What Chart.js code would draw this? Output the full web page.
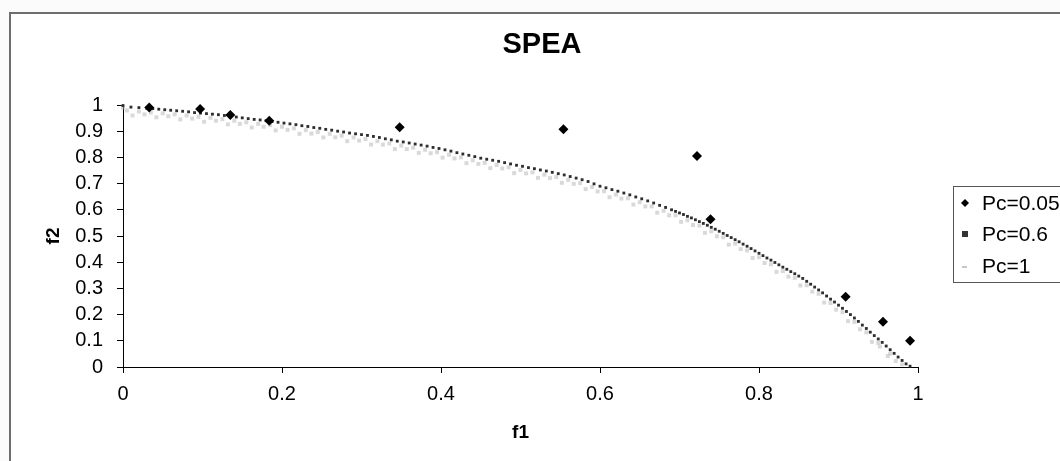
<!DOCTYPE html>
<html>
<head>
<meta charset="utf-8">
<script src="https://cdn.jsdelivr.net/npm/chart.js@4.4.0/dist/chart.umd.min.js"></script>
<style>
  html, body { margin: 0; padding: 0; background: #fbfbfb; }
  #wrap { width: 1060px; height: 461px; }
</style>
</head>
<body>
<div id="wrap"><canvas id="scatterChart" width="1060" height="461"></canvas></div>
<script>
// values
var chartTitle = 'SPEA'
var seriesNames = ['Pc=0.05', 'Pc=0.6', 'Pc=1']
var xTicks = [0, 0.2, 0.4, 0.6, 0.8, 1]
var yTicks = [0, 0.1, 0.2, 0.3, 0.4, 0.5, 0.6, 0.7, 0.8, 0.9, 1]

// Pc=0.05 (black diamonds)
var pc005X = [0.033, 0.097, 0.135, 0.184, 0.348, 0.554, 0.722, 0.739, 0.909, 0.956, 0.990]
var pc005Y = [0.990, 0.985, 0.962, 0.940, 0.915, 0.907, 0.805, 0.564, 0.268, 0.173, 0.100]

// Pc=0.6 (small dark squares along the front)
var pc06X = [0.000, 0.010, 0.020, 0.030, 0.045, 0.060, 0.075, 0.090, 0.105, 0.120,
  0.135, 0.150, 0.165, 0.180, 0.195, 0.210, 0.225, 0.240, 0.255, 0.270,
  0.285, 0.300, 0.315, 0.330, 0.345, 0.360, 0.375, 0.390, 0.405, 0.420,
  0.435, 0.450, 0.465, 0.480, 0.495, 0.510, 0.525, 0.540, 0.555, 0.570,
  0.585, 0.600, 0.615, 0.630, 0.645, 0.660, 0.675, 0.690,
  0.700, 0.705, 0.710, 0.715, 0.720, 0.725, 0.730, 0.735, 0.740, 0.745,
  0.750, 0.755, 0.760, 0.765, 0.770, 0.775, 0.780, 0.785, 0.790, 0.795,
  0.800, 0.805, 0.810, 0.815, 0.820, 0.825, 0.830, 0.835, 0.840, 0.845,
  0.850, 0.855, 0.860, 0.865, 0.870, 0.875, 0.880, 0.885, 0.890, 0.895,
  0.900, 0.905, 0.910, 0.915, 0.920, 0.925, 0.930, 0.935, 0.940, 0.945,
  0.950, 0.955, 0.960, 0.965, 0.970, 0.975, 0.980, 0.985, 0.990,
  0.0375, 0.0525, 0.0675, 0.0825, 0.0975, 0.1125, 0.1275, 0.1425, 0.1575, 0.1725,
  0.1875, 0.2025, 0.2175, 0.2325, 0.2475, 0.2625, 0.2775, 0.2925, 0.3075, 0.3225,
  0.3375, 0.3525, 0.3675, 0.3825, 0.3975, 0.4125, 0.4275, 0.4425, 0.4575, 0.4725,
  0.4875, 0.5025, 0.5175, 0.5325, 0.5475, 0.5625, 0.5775, 0.5925, 0.6075, 0.6225,
  0.6375, 0.6525, 0.6675, 0.6825, 0.6950]
var pc06Y = [0.998, 0.992, 0.990, 0.987, 0.984, 0.980, 0.976, 0.971, 0.967, 0.963,
  0.957, 0.951, 0.945, 0.940, 0.934, 0.928, 0.921, 0.914, 0.907, 0.900,
  0.893, 0.887, 0.880, 0.871, 0.862, 0.855, 0.847, 0.838, 0.829, 0.818,
  0.808, 0.797, 0.789, 0.780, 0.770, 0.761, 0.752, 0.743, 0.733, 0.721,
  0.708, 0.690, 0.677, 0.664, 0.649, 0.634, 0.617, 0.600,
  0.588, 0.582, 0.575, 0.569, 0.562, 0.555, 0.548, 0.541, 0.533, 0.526,
  0.518, 0.510, 0.502, 0.494, 0.486, 0.478, 0.469, 0.461, 0.452, 0.443,
  0.434, 0.425, 0.416, 0.408, 0.399, 0.390, 0.381, 0.373, 0.364, 0.356,
  0.347, 0.338, 0.327, 0.316, 0.305, 0.294, 0.283, 0.271, 0.259, 0.248,
  0.236, 0.224, 0.212, 0.200, 0.187, 0.174, 0.160, 0.147, 0.133, 0.120,
  0.107, 0.094, 0.080, 0.066, 0.052, 0.038, 0.025, 0.012, 0.003,
  0.986, 0.982, 0.978, 0.974, 0.969, 0.965, 0.960, 0.954, 0.948, 0.943,
  0.937, 0.931, 0.925, 0.918, 0.911, 0.904, 0.897, 0.890, 0.884, 0.876,
  0.867, 0.859, 0.851, 0.843, 0.834, 0.824, 0.813, 0.803, 0.793, 0.785,
  0.775, 0.766, 0.757, 0.748, 0.738, 0.727, 0.715, 0.699, 0.684, 0.671,
  0.657, 0.642, 0.626, 0.609, 0.594]

// Pc=1 (light grey band just under the front)
var pc1X = [0.000, 0.005, 0.020, 0.035, 0.050, 0.065, 0.080, 0.095, 0.110, 0.125,
  0.140, 0.155, 0.170, 0.185, 0.200, 0.215, 0.230, 0.245, 0.260, 0.275,
  0.290, 0.305, 0.320, 0.335, 0.350, 0.365, 0.380, 0.395, 0.410, 0.425,
  0.440, 0.455, 0.470, 0.485, 0.500, 0.515, 0.530, 0.545, 0.560, 0.575,
  0.590, 0.605, 0.620, 0.635, 0.650, 0.665, 0.680, 0.695, 0.710, 0.725,
  0.740, 0.755, 0.770, 0.785, 0.800, 0.815, 0.830, 0.845, 0.860, 0.875,
  0.890, 0.905, 0.920, 0.935, 0.950, 0.965, 0.980,
  0.012, 0.042, 0.072, 0.102, 0.132, 0.162, 0.192, 0.222, 0.252, 0.282,
  0.312, 0.342, 0.372, 0.402, 0.432, 0.462, 0.492, 0.522, 0.552, 0.582,
  0.612, 0.642, 0.672, 0.702, 0.732, 0.762, 0.792, 0.822, 0.852, 0.882,
  0.912, 0.942, 0.962,
  0.027, 0.057, 0.087, 0.117, 0.147, 0.177, 0.207, 0.237, 0.267, 0.297,
  0.327, 0.357, 0.387, 0.417, 0.447, 0.477, 0.507, 0.537, 0.567, 0.597,
  0.627, 0.657, 0.687, 0.717, 0.747, 0.777, 0.807, 0.837, 0.867, 0.897,
  0.927, 0.952, 0.972]
var pc1Y = [0.990, 0.979, 0.975, 0.971, 0.968, 0.964, 0.960, 0.955, 0.951, 0.946,
  0.940, 0.934, 0.928, 0.923, 0.917, 0.911, 0.904, 0.897, 0.890, 0.883,
  0.876, 0.870, 0.862, 0.853, 0.845, 0.837, 0.829, 0.820, 0.810, 0.800,
  0.789, 0.779, 0.771, 0.762, 0.752, 0.743, 0.734, 0.725, 0.714, 0.702,
  0.687, 0.671, 0.658, 0.644, 0.629, 0.613, 0.596, 0.579, 0.560, 0.540,
  0.518, 0.495, 0.471, 0.445, 0.419, 0.392, 0.366, 0.340, 0.312, 0.279,
  0.244, 0.209, 0.172, 0.132, 0.092, 0.051, 0.010,
  0.960, 0.953, 0.945, 0.936, 0.926, 0.914, 0.903, 0.890, 0.876, 0.862,
  0.849, 0.832, 0.817, 0.799, 0.778, 0.759, 0.740, 0.722, 0.703, 0.679,
  0.648, 0.620, 0.589, 0.554, 0.512, 0.467, 0.416, 0.363, 0.311, 0.246,
  0.175, 0.096, 0.042,
  0.964, 0.957, 0.948, 0.940, 0.928, 0.917, 0.905, 0.891, 0.877, 0.864,
  0.849, 0.832, 0.816, 0.796, 0.775, 0.758, 0.739, 0.721, 0.699, 0.670,
  0.643, 0.613, 0.579, 0.542, 0.499, 0.450, 0.397, 0.345, 0.288, 0.219,
  0.144, 0.078, 0.023]

function toPoints(xs, ys) {
  var pts = []
  for (var i = 0; i < xs.length; i++) pts.push({ x: xs[i], y: ys[i] })
  return pts
}

function fmt(v) {
  return String(Math.round(v * 10) / 10)
}

var fontFamily = '"Liberation Sans", Arial, sans-serif'

// frame + title behind, legend on top
var decor = {
  id: 'decor',
  beforeDraw: function (chart) {
    var ctx = chart.ctx
    ctx.save()
    ctx.fillStyle = '#ffffff'
    ctx.fillRect(10, 13, 1060, 461)
    ctx.strokeStyle = '#6e6e6e'
    ctx.lineWidth = 2
    ctx.beginPath()
    ctx.moveTo(10, 470)
    ctx.lineTo(10, 13)
    ctx.lineTo(1062, 13)
    ctx.stroke()
    ctx.fillStyle = '#000'
    ctx.font = 'bold 29px ' + fontFamily
    ctx.textAlign = 'center'
    ctx.textBaseline = 'middle'
    ctx.fillText(chartTitle, 542, 45)
    ctx.restore()
  },
  afterDraw: function (chart) {
    var ctx = chart.ctx
    ctx.save()
    ctx.fillStyle = '#ffffff'
    ctx.fillRect(953, 186, 120, 96)
    ctx.strokeStyle = '#555'
    ctx.lineWidth = 1
    ctx.strokeRect(953.5, 186.5, 120, 96)
    var rows = [203, 234, 266]
    ctx.font = '21px ' + fontFamily
    ctx.textBaseline = 'middle'
    ctx.textAlign = 'left'
    chart.data.datasets.forEach(function (ds, i) {
      var y = rows[i]
      if (i === 0) {
        ctx.fillStyle = '#000'
        ctx.beginPath()
        ctx.moveTo(965 - 4, y); ctx.lineTo(965, y - 4); ctx.lineTo(965 + 4, y); ctx.lineTo(965, y + 4)
        ctx.closePath(); ctx.fill()
      } else if (i === 1) {
        ctx.fillStyle = '#333'
        ctx.fillRect(962, y - 3, 6, 6)
      } else {
        ctx.fillStyle = '#c8c8c8'
        ctx.fillRect(962, y, 5, 2)
      }
      ctx.fillStyle = '#000'
      ctx.fillText(ds.label, 982, y + 1)
    })
    ctx.restore()
  }
}

var ctx = document.getElementById('scatterChart').getContext('2d')
var chart = new Chart(ctx, {
  type: 'scatter',
  data: {
    datasets: [{
      label: seriesNames[0],
      data: toPoints(pc005X, pc005Y),
      pointStyle: 'rectRot',
      pointRadius: 5,
      backgroundColor: '#000000',
      borderColor: '#000000',
      borderWidth: 0,
      clip: false
    }, {
      label: seriesNames[1],
      data: toPoints(pc06X, pc06Y),
      pointStyle: 'rect',
      pointRadius: 2,
      backgroundColor: '#2e2e2e',
      borderWidth: 0,
      clip: false
    }, {
      label: seriesNames[2],
      data: toPoints(pc1X, pc1Y),
      pointStyle: 'rect',
      pointRadius: 2.8,
      backgroundColor: 'rgba(180,180,180,0.5)',
      borderWidth: 0,
      clip: false
    }]
  },
  options: {
    responsive: false,
    animation: false,
    layout: { padding: { top: 105, right: 142, left: 0, bottom: 0 } },
    plugins: {
      legend: { display: false },
      title: { display: false },
      tooltip: { enabled: false }
    },
    scales: {
      x: {
        type: 'linear',
        min: 0,
        max: 1,
        afterBuildTicks: function (scale) {
          scale.ticks = xTicks.map(function (v) { return { value: v } })
        },
        afterFit: function (scale) { scale.height = 94 },
        ticks: {
          color: '#000',
          font: { family: fontFamily, size: 20 },
          padding: 9,
          maxRotation: 0,
          autoSkip: false,
          callback: function (v) { return fmt(v) }
        },
        grid: { drawOnChartArea: false, tickLength: 6, color: '#000', lineWidth: 1 },
        border: { color: '#000', width: 1 },
        title: {
          display: true,
          text: 'f1',
          color: '#000',
          font: { family: fontFamily, size: 19, weight: 'bold' },
          padding: { top: 0, bottom: 17 }
        }
      },
      y: {
        type: 'linear',
        min: 0,
        max: 1,
        afterBuildTicks: function (scale) {
          scale.ticks = yTicks.map(function (v) { return { value: v } })
        },
        afterFit: function (scale) { scale.width = 123 },
        ticks: {
          color: '#000',
          font: { family: fontFamily, size: 20 },
          padding: 14,
          autoSkip: false,
          callback: function (v) { return fmt(v) }
        },
        grid: { drawOnChartArea: false, tickLength: 6, color: '#000', lineWidth: 1 },
        border: { color: '#000', width: 1 },
        title: {
          display: true,
          text: 'f2',
          color: '#000',
          font: { family: fontFamily, size: 19, weight: 'bold' },
          padding: { top: 42, bottom: 0 }
        }
      }
    }
  },
  plugins: [decor]
})
</script>
</body>
</html>
